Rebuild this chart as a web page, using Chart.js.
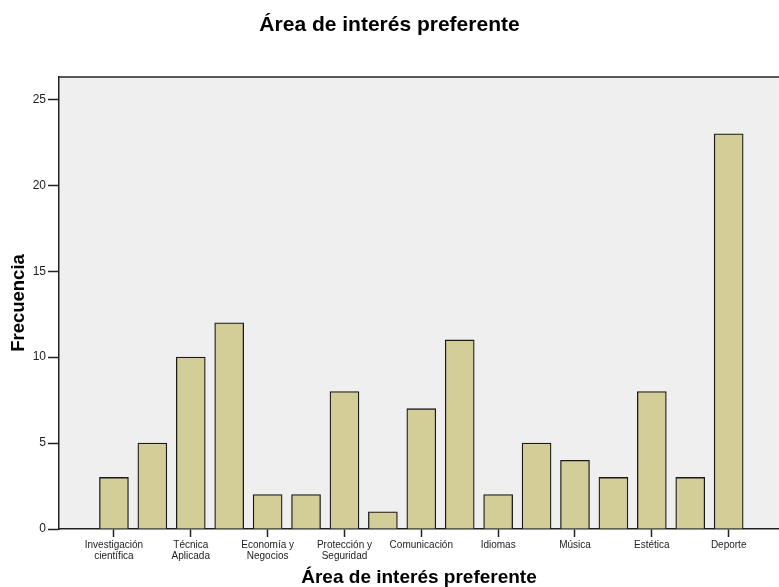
<!DOCTYPE html>
<html>
<head>
<meta charset="utf-8">
<script src="https://cdn.jsdelivr.net/npm/chart.js@4.4.1/dist/chart.umd.min.js"></script>
<style>
  html, body { margin: 0; padding: 0; background: #ffffff; }
  #wrap { width: 779px; height: 587px; }
</style>
</head>
<body>
<div id="wrap"><canvas id="chart" width="779" height="587"></canvas></div>
<script>
// Area of preferred interest: frequency per category (every other name is labelled on the axis)
const categories = [
  'Investigación científica', '',
  'Técnica Aplicada', '',
  'Economía y Negocios', '',
  'Protección y Seguridad', '',
  'Comunicación', '',
  'Idiomas', '',
  'Música', '',
  'Estética', '',
  'Deporte'
];
const frequencies = [3, 5, 10, 12, 2, 2, 8, 1, 7, 11, 2, 5, 4, 3, 8, 3, 23];
const yTickValues = [0, 5, 10, 15, 20, 25];
const labelledIndices = [0, 2, 4, 6, 8, 10, 12, 14, 16];

const FONT = "'Liberation Sans', Arial, Helvetica, sans-serif";

// Split a category name so its last word goes on a second line
function wrapName(name) {
  const words = name.split(' ');
  if (words.length < 2) return name;
  return [words.slice(0, -1).join(' '), words[words.length - 1]];
}

const plotFrame = {
  id: 'plotFrame',
  beforeDraw(chart) {
    const { ctx, chartArea: a } = chart;
    ctx.save();
    ctx.fillStyle = '#efefef';
    ctx.fillRect(a.left, a.top, a.right - a.left, a.bottom - a.top);
    ctx.strokeStyle = '#222222';
    ctx.lineWidth = 1.5;
    ctx.beginPath();
    ctx.moveTo(a.left, a.top);
    ctx.lineTo(a.right, a.top);
    ctx.stroke();
    ctx.restore();
  }
};

new Chart(document.getElementById('chart'), {
  type: 'bar',
  data: {
    datasets: [{
      data: frequencies.map((v, i) => ({ x: i, y: v })),
      backgroundColor: '#d3ce98',
      borderColor: '#1a1a1a',
      borderWidth: 1.3,
      barThickness: 29
    }]
  },
  options: {
    responsive: false,
    animation: false,
    layout: { padding: { left: 0, right: 0, top: 0, bottom: 0 } },
    plugins: {
      legend: { display: false },
      tooltip: { enabled: false },
      title: {
        display: true,
        text: 'Área de interés preferente',
        color: '#000000',
        font: { family: FONT, size: 21, weight: 'bold', lineHeight: 1 },
        padding: { top: 14.5, bottom: 41.5 }
      }
    },
    scales: {
      x: {
        type: 'linear',
        offset: false,
        min: -1.43,
        max: 17.31,
        afterBuildTicks(scale) {
          scale.ticks = labelledIndices.map(v => ({ value: v }));
        },
        afterFit(scale) { scale.height = 58; },
        ticks: {
          autoSkip: false,
          maxRotation: 0,
          padding: 3,
          color: '#222222',
          font: { family: FONT, size: 10, lineHeight: 1.05 },
          callback: (value) => wrapName(categories[value] || '')
        },
        grid: {
          display: true,
          offset: false,
          drawOnChartArea: false,
          drawTicks: true,
          tickLength: 8,
          tickWidth: 1.5,
          color: '#222222'
        },
        border: { display: true, color: '#222222', width: 1.5 },
        title: {
          display: true,
          text: 'Área de interés preferente',
          color: '#000000',
          font: { family: FONT, size: 19, weight: 'bold', lineHeight: 1 },
          padding: { top: 0, bottom: 0 }
        }
      },
      y: {
        min: 0,
        max: 26.3,
        afterBuildTicks(scale) {
          scale.ticks = yTickValues.map(v => ({ value: v }));
        },
        afterFit(scale) { scale.width = 59; },
        ticks: {
          padding: 2,
          color: '#222222',
          font: { family: FONT, size: 12 }
        },
        grid: {
          display: true,
          drawOnChartArea: false,
          drawTicks: true,
          tickLength: 11,
          tickWidth: 1.5,
          color: '#222222'
        },
        border: { display: true, color: '#222222', width: 1.5 },
        title: {
          display: true,
          text: 'Frecuencia',
          color: '#000000',
          font: { family: FONT, size: 18.5, weight: 'bold', lineHeight: 1 },
          padding: { top: 10, bottom: 0 }
        }
      }
    }
  },
  plugins: [plotFrame]
});
</script>
</body>
</html>
